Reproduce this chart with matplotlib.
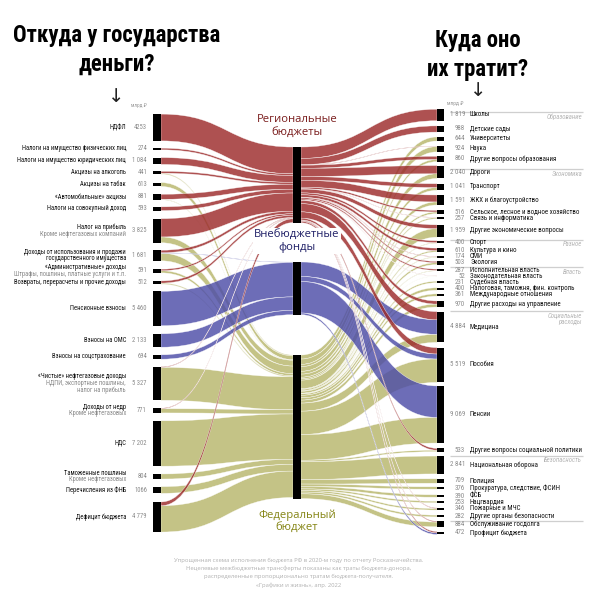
import numpy as np
import matplotlib
matplotlib.use('Agg')
import matplotlib.pyplot as plt
from matplotlib import font_manager as fm
from matplotlib.path import Path
from matplotlib.patches import PathPatch, Rectangle

# ---------------- data ----------------
source_names = [
    'НДФЛ',
    'Налоги на имущество физических лиц',
    'Налоги на имущество юридических лиц',
    'Акцизы на алкоголь',
    'Акцизы на табак',
    '«Автомобильные» акцизы',
    'Налоги на совокупный доход',
    'Налог на прибыль',
    'Доходы от использования и продажи\nгосударственного имущества',
    '«Административные» доходы',
    'Возвраты, перерасчеты и прочие доходы',
    'Пенсионные взносы',
    'Взносы на ОМС',
    'Взносы на соцстрахование',
    '«Чистые» нефтегазовые доходы',
    'Доходы от недр',
    'НДС',
    'Таможенные пошлины',
    'Перечисления из ФНБ',
    'Дефицит бюджета',
]
source_notes = ['', '', '', '', '', '', '', 'Кроме нефтегазовых компаний', '',
                'Штрафы, пошлины, платные услуги и т.п.', '', '', '', '',
                'НДПИ, экспортные пошлины,\nналог на прибыль', 'Кроме нефтегазовых', '',
                'Кроме нефтегазовых', '', '']
source_values = [4253, 274, 1084, 441, 613, 881, 593, 3825, 1681, 591, 512,
                 5460, 2133, 694, 5327, 771, 7202, 804, 1066, 4779]
# split of every source between regional budgets and extra-budget funds
# (the rest goes to the federal budget)
source_to_regional = [4253, 274, 1084, 300, 0, 800, 593, 2900, 400, 250, 350,
                      0, 0, 0, 100, 100, 0, 0, 0, 600]
source_to_funds = [0, 0, 0, 0, 0, 0, 0, 0, 81, 0, 0,
                   5460, 2133, 694, 0, 0, 0, 0, 0, 0]
no_grouping = ['НДФЛ', 'Перечисления из ФНБ']

middle_names = ['Региональные\nбюджеты', 'Внебюджетные\nфонды', 'Федеральный\nбюджет']

target_names = [
    'Школы', 'Детские сады', 'Университеты', 'Наука', 'Другие вопросы образования',
    'Дороги', 'Транспорт', 'ЖКХ и благоустройство', 'Сельское, лесное и водное хозяйство',
    'Связь и информатика', 'Другие экономические вопросы',
    'Спорт', 'Культура и кино', 'СМИ', 'Экология',
    'Исполнительная власть', 'Законодательная власть', 'Судебная власть',
    'Налоговая, таможня, фин. контроль', 'Международные отношения',
    'Другие расходы на управление',
    'Медицина', 'Пособия', 'Пенсии', 'Другие вопросы социальной политики',
    'Национальная оборона', 'Полиция', 'Прокуратура, следствие, ФСИН', 'ФСБ',
    'Нацгвардия', 'Пожарные и МЧС', 'Другие органы безопасности',
    'Обслуживание госдолга', 'Профицит бюджета',
]
target_values = [1819, 988, 644, 924, 860,
                 2040, 1041, 1591, 516, 257, 1959,
                 400, 610, 174, 503,
                 287, 52, 231, 400, 361, 970,
                 4884, 5519, 9069, 533,
                 2841, 709, 376, 390, 253, 346, 282,
                 884, 472]
target_from_regional = [1819, 988, 0, 74, 500,
                        1300, 600, 1100, 250, 57, 600,
                        300, 400, 74, 203,
                        200, 30, 0, 0, 0, 500,
                        1300, 1000, 0, 300,
                        0, 0, 0, 0, 0, 96, 0,
                        134, 204]
target_from_funds = [0, 0, 0, 0, 0,
                     0, 0, 0, 0, 0, 0,
                     0, 0, 0, 0,
                     0, 0, 0, 0, 0, 0,
                     2300, 800, 5000, 0,
                     0, 0, 0, 0, 0, 0, 0,
                     0, 268]

section_names = ['Образование', 'Экономика', 'Разное', 'Власть', 'Социальные\nрасходы',
                 'Безопасность', '']
section_first = [0, 5, 11, 15, 21, 25, 32]

# ---------------- layout ----------------
K = 0.0063  # px per bn rub
left_slots = [127.5, 149, 161, 172.7, 184.5, 197, 208.7, 230.7, 255.5, 271, 282.5,
              308.5, 340.5, 357, 383.5, 410.5, 443.5, 476.5, 490, 517]
right_slots = [115, 129, 139, 149, 159, 172, 187, 200, 212, 218, 231, 242, 250, 257,
               263, 270, 276, 282, 289, 295, 304, 327, 365, 414.5, 450, 465, 481, 488,
               496, 502, 509, 516, 524, 533]
middle_tops = [147, 262, 355]
section_line_offset = [3, 3, 2, 3, 16, 9, 3]
XL0, XL1 = 153, 161
XM0, XM1 = 293, 301
XR0, XR1 = 437, 444

RED = '#9c2b2b'
BLUE = '#4d4da8'
OLIVE = '#b8b66c'
ALPHA = 0.82
flow_colors = [RED, BLUE, OLIVE]
mid_label_colors = ['#7a1d1d', '#1f1f66', '#858515']

# ---------------- fonts ----------------
names = {f.name for f in fm.fontManager.ttflist}
def pick(cands, default):
    for c in cands:
        if c in names:
            return c
    return default
COND = pick(['Liberation Sans Narrow', 'Roboto Condensed', 'Open Sans Condensed',
             'PT Sans Narrow', 'Arial Narrow'], 'Liberation Sans')
SANS = pick(['Open Sans', 'Noto Sans', 'Lato'], 'DejaVu Sans')
FAM_C = [COND, 'DejaVu Sans']
FAM_S = [SANS, 'DejaVu Sans']

fig = plt.figure(figsize=(6, 6), dpi=100)
renderer = fig.canvas.get_renderer()

def fit(text, width_px, **kw):
    t = fig.text(0, 0, text, fontsize=10, **kw)
    w = t.get_window_extent(renderer).width
    t.remove()
    return 10.0 * width_px / w

fs_title = fit('Откуда у государства', 208, family=FAM_C, weight='bold')
fs_lab = fit('Налоги на имущество юридических лиц', 109, family=FAM_C)
fs_rlab = fit('Сельское, лесное и водное хозяйство', 108, family=FAM_C)
fs_mid = fit('Региональные', 80, family=FAM_S)
fs_sec = fit('Образование', 36, family=FAM_C, style='italic')
fs_foot = fit('Упрощенная схема исполнения бюджета РФ в 2020-м году по отчету Росказначейства.',
              251, family=FAM_S)

ax = fig.add_axes([0, 0, 1, 1])
ax.set_xlim(0, 600)
ax.set_ylim(600, 0)
ax.axis('off')

def fmt(v, group=True):
    return f'{v:,}'.replace(',', ' ') if group else str(v)

def band(x0, y0t, y0b, x1, y1t, y1b, color):
    xm = (x0 + x1) / 2
    verts = [(x0, y0t), (xm, y0t), (xm, y1t), (x1, y1t), (x1, y1b),
             (xm, y1b), (xm, y0b), (x0, y0b), (x0, y0t)]
    codes = [Path.MOVETO, Path.CURVE4, Path.CURVE4, Path.CURVE4, Path.LINETO,
             Path.CURVE4, Path.CURVE4, Path.CURVE4, Path.CLOSEPOLY]
    return PathPatch(Path(verts, codes), facecolor=color, edgecolor='white',
                     linewidth=0.3, alpha=ALPHA)

n_src = len(source_names)
n_tgt = len(target_names)
src_split = [[source_to_regional[i], source_to_funds[i],
              source_values[i] - source_to_regional[i] - source_to_funds[i]]
             for i in range(n_src)]
tgt_split = [[target_from_regional[j], target_from_funds[j],
              target_values[j] - target_from_regional[j] - target_from_funds[j]]
             for j in range(n_tgt)]

mid_in = [sum(src_split[i][m] for i in range(n_src)) for m in range(3)]
mid_out = [sum(tgt_split[j][m] for j in range(n_tgt)) for m in range(3)]

patches = {0: [], 1: [], 2: []}
# left -> middle
mid_cursor_in = [middle_tops[m] for m in range(3)]
src_tops = [left_slots[i] - source_values[i] * K / 2 for i in range(n_src)]
src_cursor = list(src_tops)
for i in range(n_src):
    for m in range(3):
        v = src_split[i][m]
        if v <= 0:
            continue
        h = v * K
        patches[m].append(band(XL1, src_cursor[i], src_cursor[i] + h,
                               XM0, mid_cursor_in[m], mid_cursor_in[m] + h, flow_colors[m]))
        src_cursor[i] += h
        mid_cursor_in[m] += h
# middle -> right
mid_cursor_out = [middle_tops[m] for m in range(3)]
tgt_tops = [right_slots[j] - target_values[j] * K / 2 for j in range(n_tgt)]
for j in range(n_tgt):
    cur = tgt_tops[j]
    for m in range(3):
        v = tgt_split[j][m]
        if v <= 0:
            continue
        h = v * K
        patches[m].append(band(XM1, mid_cursor_out[m], mid_cursor_out[m] + h,
                               XR0, cur, cur + h, flow_colors[m]))
        cur += h
        mid_cursor_out[m] += h

for m in [2, 1, 0]:
    for p in patches[m]:
        ax.add_patch(p)

# node bars
for i in range(n_src):
    ax.add_patch(Rectangle((XL0, src_tops[i]), XL1 - XL0, source_values[i] * K,
                           facecolor='black', edgecolor='none', zorder=5))
for j in range(n_tgt):
    ax.add_patch(Rectangle((XR0, tgt_tops[j]), XR1 - XR0, target_values[j] * K,
                           facecolor='black', edgecolor='none', zorder=5))
for m in range(3):
    hgt = max(mid_in[m], mid_out[m]) * K
    ax.add_patch(Rectangle((XM0, middle_tops[m]), XM1 - XM0, hgt,
                           facecolor='black', edgecolor='none', zorder=5))

# middle labels
mid_label_y = [126, 241, 521]
for m in range(3):
    bb = dict(facecolor='white', edgecolor='none', pad=1.0) if m == 1 else None
    ax.text((XM0 + XM1) / 2, mid_label_y[m], middle_names[m], ha='center', va='center',
            fontsize=fs_mid, color=mid_label_colors[m], family=FAM_S,
            linespacing=1.15, zorder=6, bbox=bb)

# left labels
LS = 6.6
for i in range(n_src):
    main = source_names[i].split('\n')
    notes = source_notes[i].split('\n') if source_notes[i] else []
    lines = [(t, '#111111') for t in main] + [(t, '#8a8a8a') for t in notes]
    n = len(lines)
    for k, (t, c) in enumerate(lines):
        y = left_slots[i] + (k - (n - 1) / 2) * LS
        ax.text(126, y, t, ha='right', va='center', fontsize=fs_lab, color=c, family=FAM_C)
    ax.text(147, left_slots[i], fmt(source_values[i], source_names[i] not in no_grouping),
            ha='right', va='center', fontsize=fs_lab, color='#8a8a8a', family=FAM_C)
ax.text(147, 105, 'млрд ₽', ha='right', va='center', fontsize=fs_lab * 0.8,
        color='#9a9a9a', family=FAM_C)

# right labels
for j in range(n_tgt):
    ax.text(470, right_slots[j], target_names[j], ha='left', va='center',
            fontsize=fs_rlab, color='#111111', family=FAM_C)
    ax.text(465, right_slots[j], fmt(target_values[j]), ha='right', va='center',
            fontsize=fs_rlab, color='#8a8a8a', family=FAM_C)
ax.text(447, 104, 'млрд ₽', ha='left', va='center', fontsize=fs_rlab * 0.8,
        color='#9a9a9a', family=FAM_C)

# section separators
for s, first in enumerate(section_first):
    ly = right_slots[first] - section_line_offset[s]
    ax.plot([450, 583], [ly, ly], color='#cfcfcf', lw=0.9, solid_capstyle='butt')
    if section_names[s]:
        nl = section_names[s].count('\n') + 1
        ax.text(582, ly + 1.5, section_names[s], ha='right', va='top', fontsize=fs_sec,
                color='#b5b5b5', style='italic', family=FAM_C, linespacing=1.1)

# titles
ax.text(117, 50, 'Откуда у государства\nденьги?', ha='center', va='center',
        fontsize=fs_title, weight='bold', family=FAM_C, linespacing=1.3, color='black')
ax.text(478, 55, 'Куда оно\nих тратит?', ha='center', va='center',
        fontsize=fs_title, weight='bold', family=FAM_C, linespacing=1.3, color='black')
ax.text(116, 96, '↓', ha='center', va='center', fontsize=14, family=['DejaVu Sans'],
        color='#222222')
ax.text(478, 91, '↓', ha='center', va='center', fontsize=14, family=['DejaVu Sans'],
        color='#222222')

# footer
footer = ['Упрощенная схема исполнения бюджета РФ в 2020-м году по отчету Росказначейства.',
          'Нецелевые межбюджетные трансферты показаны как траты бюджета-донора,',
          'распределенные пропорционально тратам бюджета-получателя.',
          '«Графики и жизнь», апр. 2022']
for k, t in enumerate(footer):
    ax.text(299, 560 + k * 8.4, t, ha='center', va='center', fontsize=fs_foot,
            color='#b0b0b0', family=FAM_S)

fig.savefig('out.png', dpi=100, facecolor='white')
